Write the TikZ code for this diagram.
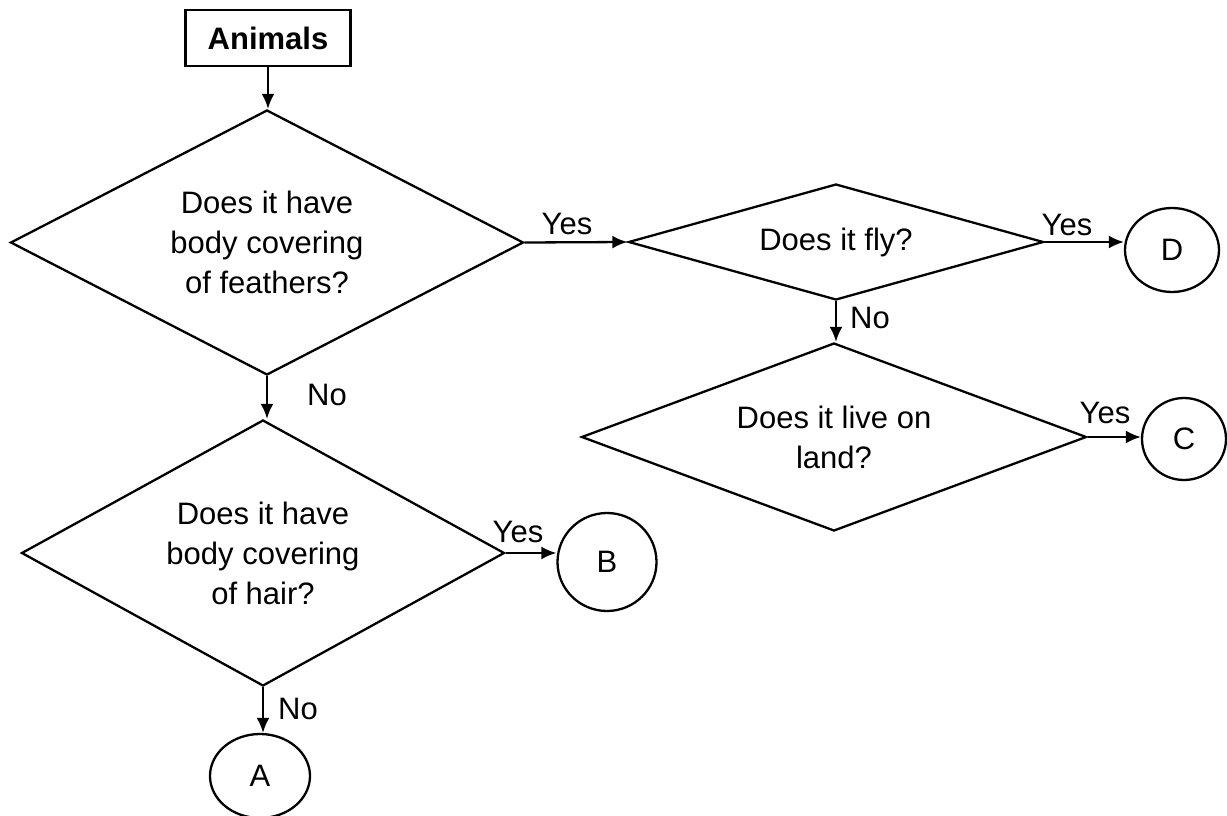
\documentclass[tikz,border=0pt]{standalone}
\usepackage{fontspec}
\setmainfont{Liberation Sans}
\usetikzlibrary{shapes.geometric,arrows.meta}
\begin{document}
\begin{tikzpicture}[x=1pt,y=-1pt,
  every node/.style={font=\fontsize{31}{40}\selectfont},
  dec/.style={diamond,draw,line width=2.3pt,inner sep=0pt,align=center},
  term/.style={ellipse,draw,line width=2.3pt,inner sep=0pt},
  arr/.style={line width=2.3pt,-{Latex[length=15pt,width=13pt]}},
  lbl/.style={inner sep=0pt}]
\useasboundingbox (0,0) rectangle (1227,816);
\fill[white] (0,0) rectangle (1227,816);

\node[draw,line width=2.3pt,minimum width=165,minimum height=56,inner sep=0pt,font=\fontsize{31}{36}\selectfont\bfseries] (top) at (268,38) {Animals};

\node[dec,shape aspect=1.94,minimum width=513,minimum height=265] (d1) at (267,242.5) {Does it have\\body covering\\of feathers?};
\node[dec,shape aspect=3.6,minimum width=415,minimum height=116] (d2) at (836,242) {Does it fly?};
\node[dec,shape aspect=2.7,minimum width=505,minimum height=188] (d3) at (834,437) {Does it live on\\land?};
\node[dec,shape aspect=1.8,minimum width=483,minimum height=266] (d4) at (263,553) {Does it have\\body covering\\of hair?};

\node[term,minimum width=94,minimum height=84] (D) at (1172,250) {D};
\node[term,minimum width=84,minimum height=82] (C) at (1184,439) {C};
\node[term,minimum width=99,minimum height=98] (B) at (607,562) {B};
\node[term,minimum width=100,minimum height=84] (A) at (260,776) {A};

\draw[arr] (top.south) -- (top.south |- d1.north);
\draw[arr] (d1.east) -- (d2.west);
\draw[arr] (d2.east) -- (d2.east -| D.west);
\draw[arr] (d2.south) -- (d2.south |- d3.north);
\draw[arr] (d3.east) -- (d3.east -| C.west);
\draw[arr] (d1.south) -- (d1.south |- d4.north);
\draw[arr] (d4.east) -- (d4.east -| B.west);
\draw[arr] (d4.south) -- (d4.south |- A.north);

\node[lbl] (l1) at (567,224) {Yes};
\node[lbl] (l2) at (1067,225) {Yes};
\node[lbl] (l3) at (870,318) {No};
\node[lbl] (l4) at (1105,413) {Yes};
\node[lbl] (l5) at (327,395) {No};
\node[lbl] (l6) at (518,532) {Yes};
\node[lbl] (l7) at (298,709) {No};
\end{tikzpicture}
\end{document}
